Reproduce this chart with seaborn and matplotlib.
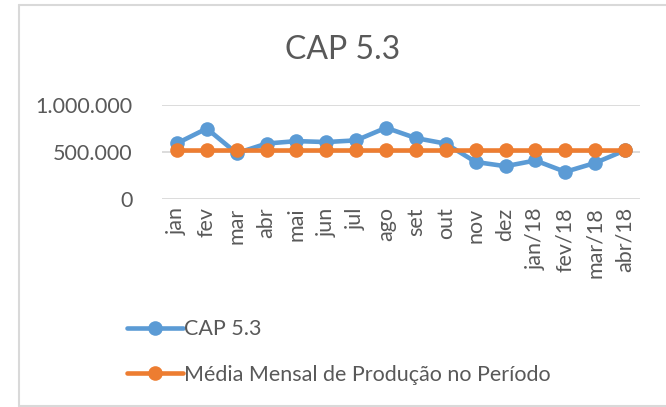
import matplotlib
matplotlib.use("Agg")
import matplotlib.pyplot as plt
import matplotlib.ticker as mticker
from matplotlib.lines import Line2D
import seaborn as sns
import pandas as pd

# Data
months = ["jan", "fev", "mar", "abr", "mai", "jun", "jul", "ago", "set", "out",
          "nov", "dez", "jan/18", "fev/18", "mar/18", "abr/18"]
cap53 = [592000, 750000, 487000, 590000, 616000, 606000, 624000, 758000,
         648000, 589000, 394000, 349000, 410000, 289000, 384000, 518000]
media = [520000] * 16

blue = "#5B9BD5"
orange = "#ED7D31"
grey = "#595959"

sns.set_theme(style="white")
plt.rcParams['font.family'] = ['Lato', 'DejaVu Sans']

df = pd.DataFrame({"mes": months, "CAP 5.3": cap53,
                   "Média Mensal de Produção no Período": media})

fig = plt.figure(figsize=(6.66, 4.07), dpi=100)
ax = fig.add_axes([0.2432, 0.511, 0.7177, 0.231])

sns.lineplot(data=df, x="mes", y="CAP 5.3", sort=False, ax=ax, color=blue,
             lw=3.3, marker="o", markersize=10.5, markeredgewidth=0)
sns.lineplot(data=df, x="mes", y="Média Mensal de Produção no Período", sort=False,
             ax=ax, color=orange, lw=3.3, marker="o", markersize=10.5, markeredgewidth=0)

ax.set_xlim(-0.5, len(months) - 0.5)
ax.set_ylim(0, 1000000)
ax.set_yticks([0, 500000, 1000000])
ax.yaxis.set_major_formatter(mticker.FuncFormatter(lambda v, p: f"{int(v):,}".replace(",", ".")))
ax.set_xticks(range(len(months)))
ax.set_xticklabels(months, rotation=90, fontsize=15.5, color=grey)
ax.tick_params(axis="y", labelsize=15.5, labelcolor=grey, length=0, pad=21)
ax.tick_params(axis="x", length=0, pad=6)
ax.grid(axis="y", color="#d9d9d9", lw=1.3)
ax.set_axisbelow(True)
ax.set_xlabel("")
ax.set_ylabel("")
sns.despine(ax=ax, left=True, bottom=True)
if ax.get_legend():
    ax.get_legend().remove()

fig.text(343 / 666, 1 - 50 / 407, "CAP 5.3", fontsize=23, color=grey,
         ha="center", va="center")

handles = [Line2D([], [], color=blue, lw=3.3, marker="o", markersize=10.5, markeredgewidth=0),
           Line2D([], [], color=orange, lw=3.3, marker="o", markersize=10.5, markeredgewidth=0)]
fig.legend(handles, ["CAP 5.3", "Média Mensal de Produção no Período"],
           loc="center left", bbox_to_anchor=(116 / 666, 1 - 352 / 407),
           frameon=False, fontsize=15.5, labelcolor=grey, handlelength=2.6,
           handletextpad=0.05, labelspacing=1.2, borderpad=0)

# chart frame (right side falls outside the picture)
frame = dict(color="#d9d9d9", lw=1.5, transform=fig.transFigure)
fig.lines.append(Line2D([19 / 666, 19 / 666], [1 / 407, 1 - 5 / 407], **frame))
fig.lines.append(Line2D([19 / 666, 1], [1 - 5 / 407, 1 - 5 / 407], **frame))
fig.lines.append(Line2D([19 / 666, 1], [1 / 407, 1 / 407], **frame))

fig.savefig("out.png", dpi=100)
